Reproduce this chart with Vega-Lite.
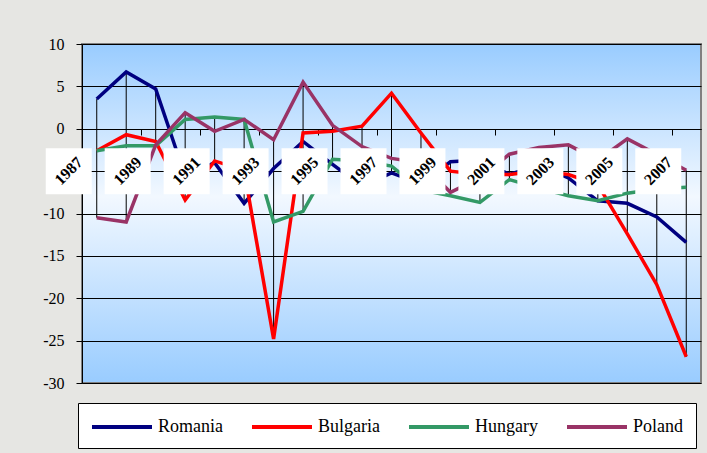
{
  "$schema": "https://vega.github.io/schema/vega-lite/v6.json",
  "autosize": {"type": "none"},
  "width": 619,
  "height": 339,
  "padding": {"left": 82, "top": 44, "right": 6, "bottom": 70},
  "background": "#E6E6E3",
  "config": {
    "view": {
      "stroke": "#808080",
      "strokeWidth": 2,
      "fill": {
        "gradient": "linear",
        "x1": 0, "y1": 0, "x2": 0, "y2": 1,
        "stops": [
          {"offset": 0, "color": "#99CCFF"},
          {"offset": 0.45, "color": "#F2F8FF"},
          {"offset": 1, "color": "#99CCFF"}
        ]
      }
    },
    "font": "Liberation Serif"
  },
  "datasets": {
    "cab": [
      {"year": 1987, "country": "Romania", "value": 3.5},
      {"year": 1988, "country": "Romania", "value": 6.7},
      {"year": 1989, "country": "Romania", "value": 4.7},
      {"year": 1990, "country": "Romania", "value": -5.6},
      {"year": 1991, "country": "Romania", "value": -4.0},
      {"year": 1992, "country": "Romania", "value": -8.8},
      {"year": 1993, "country": "Romania", "value": -4.7},
      {"year": 1994, "country": "Romania", "value": -1.5},
      {"year": 1995, "country": "Romania", "value": -4.2},
      {"year": 1996, "country": "Romania", "value": -6.8},
      {"year": 1997, "country": "Romania", "value": -5.2},
      {"year": 1998, "country": "Romania", "value": -6.5},
      {"year": 1999, "country": "Romania", "value": -3.9},
      {"year": 2000, "country": "Romania", "value": -3.7},
      {"year": 2001, "country": "Romania", "value": -5.4},
      {"year": 2002, "country": "Romania", "value": -4.3},
      {"year": 2003, "country": "Romania", "value": -5.8},
      {"year": 2004, "country": "Romania", "value": -8.5},
      {"year": 2005, "country": "Romania", "value": -8.8},
      {"year": 2006, "country": "Romania", "value": -10.4},
      {"year": 2007, "country": "Romania", "value": -13.4},
      {"year": 1987, "country": "Bulgaria", "value": -2.6},
      {"year": 1988, "country": "Bulgaria", "value": -0.7},
      {"year": 1989, "country": "Bulgaria", "value": -1.5},
      {"year": 1990, "country": "Bulgaria", "value": -8.4},
      {"year": 1991, "country": "Bulgaria", "value": -3.8},
      {"year": 1992, "country": "Bulgaria", "value": -4.9},
      {"year": 1993, "country": "Bulgaria", "value": -24.8},
      {"year": 1994, "country": "Bulgaria", "value": -0.5},
      {"year": 1995, "country": "Bulgaria", "value": -0.3},
      {"year": 1996, "country": "Bulgaria", "value": 0.3},
      {"year": 1997, "country": "Bulgaria", "value": 4.2},
      {"year": 1998, "country": "Bulgaria", "value": -0.5},
      {"year": 1999, "country": "Bulgaria", "value": -5.0},
      {"year": 2000, "country": "Bulgaria", "value": -5.4},
      {"year": 2001, "country": "Bulgaria", "value": -5.4},
      {"year": 2002, "country": "Bulgaria", "value": -5.0},
      {"year": 2003, "country": "Bulgaria", "value": -5.4},
      {"year": 2004, "country": "Bulgaria", "value": -6.6},
      {"year": 2005, "country": "Bulgaria", "value": -12.4},
      {"year": 2006, "country": "Bulgaria", "value": -18.4},
      {"year": 2007, "country": "Bulgaria", "value": -26.9},
      {"year": 1987, "country": "Hungary", "value": -2.6},
      {"year": 1988, "country": "Hungary", "value": -2.0},
      {"year": 1989, "country": "Hungary", "value": -2.0},
      {"year": 1990, "country": "Hungary", "value": 1.1},
      {"year": 1991, "country": "Hungary", "value": 1.4},
      {"year": 1992, "country": "Hungary", "value": 1.1},
      {"year": 1993, "country": "Hungary", "value": -11.0},
      {"year": 1994, "country": "Hungary", "value": -9.75},
      {"year": 1995, "country": "Hungary", "value": -3.6},
      {"year": 1996, "country": "Hungary", "value": -3.8},
      {"year": 1997, "country": "Hungary", "value": -4.4},
      {"year": 1998, "country": "Hungary", "value": -7.2},
      {"year": 1999, "country": "Hungary", "value": -7.9},
      {"year": 2000, "country": "Hungary", "value": -8.7},
      {"year": 2001, "country": "Hungary", "value": -6.0},
      {"year": 2002, "country": "Hungary", "value": -7.0},
      {"year": 2003, "country": "Hungary", "value": -7.9},
      {"year": 2004, "country": "Hungary", "value": -8.5},
      {"year": 2005, "country": "Hungary", "value": -7.6},
      {"year": 2006, "country": "Hungary", "value": -7.1},
      {"year": 2007, "country": "Hungary", "value": -6.9},
      {"year": 1987, "country": "Poland", "value": -10.5},
      {"year": 1988, "country": "Poland", "value": -11.0},
      {"year": 1989, "country": "Poland", "value": -1.9},
      {"year": 1990, "country": "Poland", "value": 1.9},
      {"year": 1991, "country": "Poland", "value": -0.3},
      {"year": 1992, "country": "Poland", "value": 1.1},
      {"year": 1993, "country": "Poland", "value": -1.3},
      {"year": 1994, "country": "Poland", "value": 5.5},
      {"year": 1995, "country": "Poland", "value": 0.4},
      {"year": 1996, "country": "Poland", "value": -2.1},
      {"year": 1997, "country": "Poland", "value": -3.5},
      {"year": 1998, "country": "Poland", "value": -4.0},
      {"year": 1999, "country": "Poland", "value": -7.5},
      {"year": 2000, "country": "Poland", "value": -5.8},
      {"year": 2001, "country": "Poland", "value": -3.0},
      {"year": 2002, "country": "Poland", "value": -2.2},
      {"year": 2003, "country": "Poland", "value": -1.9},
      {"year": 2004, "country": "Poland", "value": -3.7},
      {"year": 2005, "country": "Poland", "value": -1.2},
      {"year": 2006, "country": "Poland", "value": -3.0},
      {"year": 2007, "country": "Poland", "value": -4.9}
    ],
    "labels": [
      {"year": 1987, "label": "1987"},
      {"year": 1989, "label": "1989"},
      {"year": 1991, "label": "1991"},
      {"year": 1993, "label": "1993"},
      {"year": 1995, "label": "1995"},
      {"year": 1997, "label": "1997"},
      {"year": 1999, "label": "1999"},
      {"year": 2001, "label": "2001"},
      {"year": 2003, "label": "2003"},
      {"year": 2005, "label": "2005"},
      {"year": 2007, "label": "2007"}
    ]
  },
  "layer": [
    {
      "data": {"name": "cab"},
      "mark": {"type": "rule", "color": "#000000", "strokeWidth": 1},
      "encoding": {
        "x": {
          "field": "year", "type": "quantitative",
          "scale": {"domain": [1986.5, 2007.5], "nice": false, "zero": false},
          "axis": {
            "orient": "bottom",
            "offset": -254,
            "values": [1986.5, 1987.5, 1988.5, 1989.5, 1990.5, 1991.5, 1992.5, 1993.5, 1994.5, 1995.5, 1996.5, 1997.5, 1998.5, 1999.5, 2000.5, 2001.5, 2002.5, 2003.5, 2004.5, 2005.5, 2006.5, 2007.5],
            "labels": false,
            "grid": false,
            "title": null,
            "domainColor": "#000000",
            "tickColor": "#000000",
            "tickSize": 6,
            "zindex": 0
          }
        },
        "y": {
          "aggregate": "min", "field": "value", "type": "quantitative",
          "scale": {"domain": [-30, 10], "nice": false, "zero": false},
          "axis": {
            "values": [-30, -25, -20, -15, -10, -5, 0, 5, 10],
            "labelExpr": "'' + datum.value",
            "labelFont": "Liberation Serif",
            "labelFontSize": 16,
            "labelColor": "#000000",
            "labelPadding": 12,
            "tickSize": 6,
            "tickColor": "#000000",
            "domainColor": "#000000",
            "gridColor": "#000000",
            "gridOpacity": 1,
            "gridWidth": 1,
            "title": null,
            "zindex": 0
          }
        },
        "y2": {"aggregate": "max", "field": "value"}
      }
    },
    {
      "data": {"name": "cab"},
      "mark": {"type": "line", "strokeWidth": 3.5},
      "encoding": {
        "x": {"field": "year", "type": "quantitative"},
        "y": {"field": "value", "type": "quantitative"},
        "color": {
          "field": "country", "type": "nominal",
          "scale": {
            "domain": ["Romania", "Bulgaria", "Hungary", "Poland"],
            "range": ["#000080", "#FF0000", "#339966", "#993366"]
          },
          "legend": {
            "title": null,
            "orient": "none",
            "legendX": -4,
            "legendY": 359,
            "direction": "horizontal",
            "columns": 4,
            "gridAlign": "none",
            "columnPadding": 21,
            "padding": 12,
            "fillColor": "#FFFFFF",
            "strokeColor": "#000000",
            "symbolType": "M-1,0H5",
            "symbolSize": 400,
            "symbolStrokeWidth": 4,
            "labelFont": "Liberation Serif",
            "labelFontSize": 18,
            "labelColor": "#000000",
            "labelOffset": 44
          }
        }
      }
    },
    {
      "data": {"name": "labels"},
      "mark": {"type": "point", "shape": "square", "filled": true, "color": "#FFFFFF", "opacity": 1, "size": 2116, "strokeWidth": 0, "xOffset": -28},
      "encoding": {
        "x": {"field": "year", "type": "quantitative"},
        "y": {"datum": -5}
      }
    },
    {
      "data": {"name": "labels"},
      "mark": {"type": "text", "angle": 315, "align": "center", "baseline": "middle", "font": "Liberation Serif", "fontSize": 16, "fontWeight": "bold", "color": "#000000", "xOffset": -28},
      "encoding": {
        "x": {"field": "year", "type": "quantitative"},
        "y": {"datum": -5},
        "text": {"field": "label"}
      }
    }
  ]
}
